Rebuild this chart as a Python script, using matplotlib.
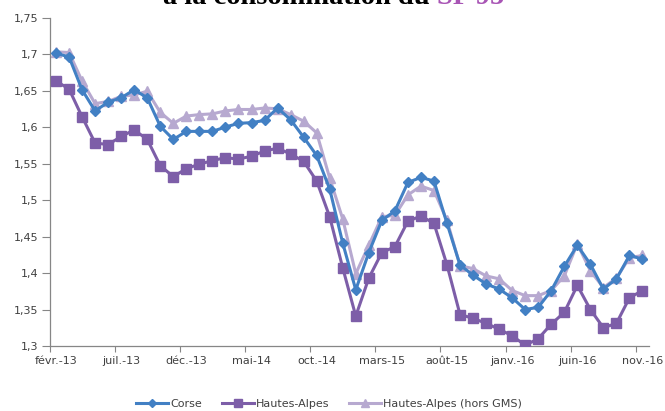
import matplotlib
matplotlib.use("Agg")
import matplotlib.pyplot as plt
from matplotlib.ticker import FixedLocator, NullFormatter

months = ["févr.-13", "mars-13", "avr.-13", "mai-13", "juin-13", "juil.-13", "août-13", "sept.-13",
          "oct.-13", "nov.-13", "déc.-13", "janv.-14", "févr.-14", "mars-14", "avr.-14", "mai-14",
          "juin-14", "juil.-14", "août-14", "sept.-14", "oct.-14", "nov.-14", "déc.-14", "janv.-15",
          "févr.-15", "mars-15", "avr.-15", "mai-15", "juin-15", "juil.-15", "août-15", "sept.-15",
          "oct.-15", "nov.-15", "déc.-15", "janv.-16", "févr.-16", "mars-16", "avr.-16", "mai-16",
          "juin-16", "juil.-16", "août-16", "sept.-16", "oct.-16", "nov.-16"]

corse = [1.701, 1.696, 1.651, 1.622, 1.634, 1.640, 1.651, 1.640, 1.601, 1.583, 1.594, 1.594,
         1.594, 1.600, 1.605, 1.606, 1.609, 1.626, 1.610, 1.586, 1.561, 1.515, 1.441, 1.377,
         1.428, 1.472, 1.485, 1.524, 1.531, 1.526, 1.468, 1.411, 1.397, 1.385, 1.378, 1.366,
         1.350, 1.353, 1.376, 1.409, 1.438, 1.412, 1.378, 1.392, 1.424, 1.419]

hautes_alpes = [1.663, 1.652, 1.614, 1.578, 1.576, 1.587, 1.596, 1.583, 1.547, 1.532, 1.543, 1.549,
                1.554, 1.558, 1.556, 1.560, 1.567, 1.571, 1.563, 1.553, 1.526, 1.477, 1.407, 1.341,
                1.393, 1.428, 1.436, 1.471, 1.478, 1.468, 1.411, 1.343, 1.338, 1.331, 1.323, 1.314,
                1.301, 1.310, 1.330, 1.346, 1.383, 1.350, 1.325, 1.331, 1.366, 1.376]

hors_gms = [1.703, 1.702, 1.663, 1.632, 1.635, 1.642, 1.644, 1.649, 1.620, 1.605, 1.615, 1.617,
            1.618, 1.622, 1.624, 1.624, 1.626, 1.625, 1.617, 1.608, 1.592, 1.530, 1.474, 1.399,
            1.438, 1.477, 1.479, 1.507, 1.519, 1.513, 1.472, 1.410, 1.406, 1.396, 1.392, 1.376,
            1.369, 1.369, 1.376, 1.396, 1.440, 1.403, 1.380, 1.393, 1.421, 1.424]

series_names = ["Corse", "Hautes-Alpes", "Hautes-Alpes (hors GMS)"]
y_ticks = [1.3, 1.35, 1.4, 1.45, 1.5, 1.55, 1.6, 1.65, 1.7, 1.75]
y_labels = ["1,3", "1,35", "1,4", "1,45", "1,5", "1,55", "1,6", "1,65", "1,7", "1,75"]

W, H = 665, 411
fig = plt.figure(figsize=(W / 100, H / 100), dpi=100)
ax = fig.add_axes([49.5 / W, 1 - 346 / H, 599.5 / W, (346 - 17.5) / H])

x = list(range(len(months)))
c_corse = "#4280c4"
c_ha = "#7d5ea8"
c_gms = "#b7a9d0"

ax.plot(x, hors_gms, color=c_gms, lw=2.2, marker="^", ms=7.5, mec=c_gms, mfc=c_gms,
        label=series_names[2], zorder=2)
ax.plot(x, hautes_alpes, color=c_ha, lw=2.2, marker="s", ms=6.5, mec=c_ha, mfc=c_ha,
        label=series_names[1], zorder=3)
ax.plot(x, corse, color=c_corse, lw=2.2, marker="D", ms=5, mec=c_corse, mfc=c_corse,
        label=series_names[0], zorder=4)

ax.set_xlim(-0.5, len(months) - 0.5)
ax.set_ylim(1.3, 1.75)

lab_font = dict(family=["DejaVu Sans"], size=8, color="#404040")
ax.set_yticks(y_ticks)
ax.set_yticklabels(y_labels, **lab_font)

# category boundaries carry the tick marks, labels sit on the categories
ax.xaxis.set_major_locator(FixedLocator([-0.5 + 5 * k for k in range(10)]))
ax.xaxis.set_major_formatter(NullFormatter())
ax.set_xticks(x[::5], minor=True)
ax.set_xticklabels(months[::5], minor=True, **lab_font)
ax.tick_params(axis="x", which="minor", length=0, pad=7)
ax.tick_params(axis="x", which="major", length=4, width=0.8, color="#868686", direction="out")
ax.tick_params(axis="y", length=6, width=0.8, color="#868686", direction="out", pad=2)

for s in ["top", "right"]:
    ax.spines[s].set_visible(False)
for s in ["left", "bottom"]:
    ax.spines[s].set_color("#868686")
    ax.spines[s].set_linewidth(0.9)

handles, labels = ax.get_legend_handles_labels()
order = [2, 1, 0]
leg = fig.legend([handles[i] for i in order], [labels[i] for i in order],
                 loc="center", bbox_to_anchor=(329 / W, 7 / H), ncol=3, frameon=False,
                 prop=dict(family=["DejaVu Sans"], size=8), handlelength=2.9,
                 columnspacing=1.8, handletextpad=0.15, markerscale=0.85)
for t in leg.get_texts():
    t.set_color("#404040")

# title, mostly cut off by the top edge (as in the source picture)
title_family = ["Liberation Serif", "DejaVu Serif"]
size = 17
base_y = 1 - 3.5 / H
t1 = fig.text(163 / W, base_y, "à la consommation du ", color="black", va="baseline",
              ha="left", family=title_family, weight="bold", size=size)
t2 = fig.text(0, base_y, "SP 95", color="#a855b5", va="baseline", ha="left",
              family=title_family, weight="bold", size=size)
fig.canvas.draw()
r = fig.canvas.get_renderer()
w_total = t1.get_window_extent(r).width + t2.get_window_extent(r).width
size = size * 342 / w_total
t1.set_fontsize(size)
t2.set_fontsize(size)
fig.canvas.draw()
t2.set_x(t1.get_window_extent(r).x1 / W)

fig.savefig("out.png", dpi=100)
